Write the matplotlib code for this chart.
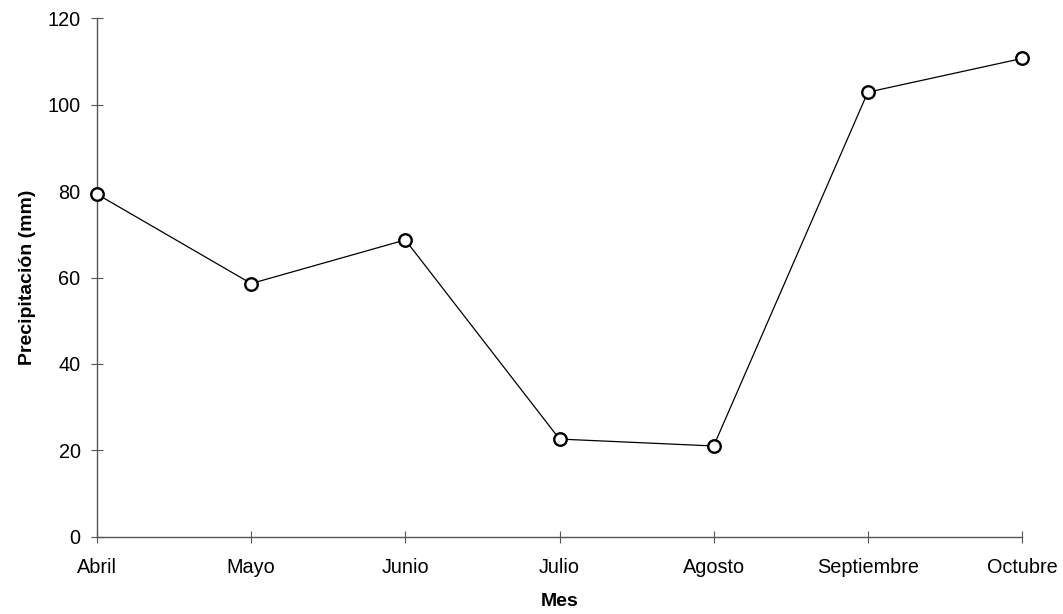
import matplotlib
matplotlib.use("Agg")
import matplotlib.pyplot as plt

# monthly precipitation (mm)
meses = ["Abril", "Mayo", "Junio", "Julio", "Agosto", "Septiembre", "Octubre"]
precip = [79.3, 58.6, 68.7, 22.6, 21.0, 102.9, 110.7]
y_ticks = [0, 20, 40, 60, 80, 100, 120]

plt.rcParams["font.family"] = ["Liberation Sans", "DejaVu Sans"]

fig = plt.figure(figsize=(10.63, 6.14), dpi=100)
ax = fig.add_axes([97 / 1063, 1 - 536.7 / 614, (1022 - 97) / 1063, (536.7 - 18.3) / 614])

x = list(range(len(meses)))
ax.plot(x, precip, color="black", linewidth=0.9, marker="o", markersize=9,
        markerfacecolor="white", markeredgecolor="black", markeredgewidth=1.7,
        clip_on=False, zorder=3)

ax.set_xlim(0, len(meses) - 1)
ax.set_ylim(0, 120)
ax.set_xticks(x)
ax.set_xticklabels(meses)
ax.set_yticks(y_ticks)

for side in ("top", "right"):
    ax.spines[side].set_visible(False)
for side in ("left", "bottom"):
    ax.spines[side].set_color("#555555")
    ax.spines[side].set_linewidth(1.0)

ax.tick_params(axis="y", direction="inout", length=8.6, width=0.8,
               color="#555555", labelsize=14.3, pad=7.5)
ax.tick_params(axis="x", direction="inout", length=8, width=0.8,
               color="#555555", labelsize=14.3, pad=11)

ax.set_xlabel("Mes", fontsize=14, fontweight="bold", labelpad=12)
ax.set_ylabel("Precipitación (mm)", fontsize=14, fontweight="bold", labelpad=8)

fig.savefig("out.png", dpi=100)
